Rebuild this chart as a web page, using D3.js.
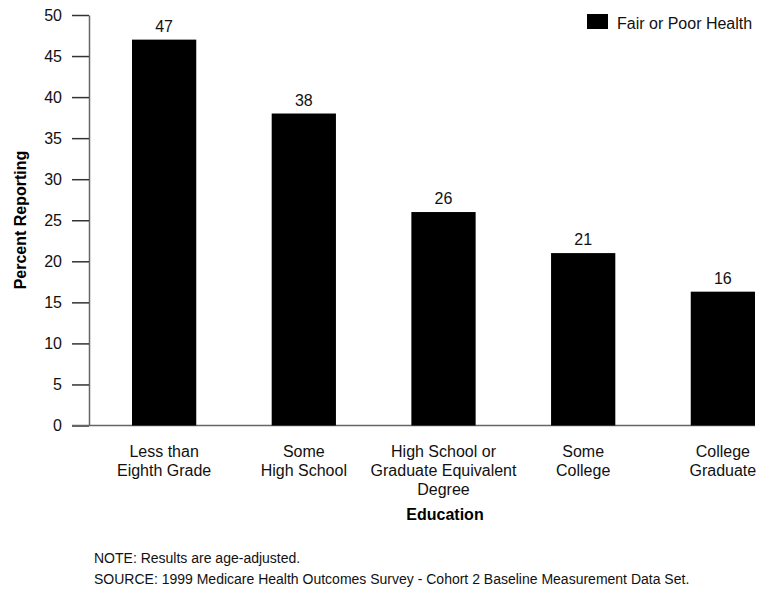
<!DOCTYPE html>
<html>
<head>
<meta charset="utf-8">
<script src="https://cdn.jsdelivr.net/npm/d3@7"></script>
<style>
  body { margin: 0; background: #fff; }
  svg { font-family: "Liberation Sans", Arial, Helvetica, sans-serif; }
</style>
</head>
<body>
<svg id="chart" width="772" height="594"></svg>
<script>
const categories = [
  ['Less than', 'Eighth Grade'],
  ['Some', 'High School'],
  ['High School or', 'Graduate Equivalent', 'Degree'],
  ['Some', 'College'],
  ['College', 'Graduate']
];
const values = [47, 38, 26, 21, 16.3];
const valueLabels = ['47', '38', '26', '21', '16'];
const yTicks = [0, 5, 10, 15, 20, 25, 30, 35, 40, 45, 50];

const svg = d3.select('#chart');
const axisX = 89;
const axisColor = '#666';

const xScale = d3.scaleBand()
  .domain(d3.range(categories.length))
  .range([132, 755])
  .paddingInner(0.54)
  .paddingOuter(0);

const yScale = d3.scaleLinear().domain([0, 50]).range([425.5, 15]);

// y axis
const yAxis = svg.append('g')
  .attr('transform', `translate(${axisX},0)`)
  .call(d3.axisLeft(yScale).tickValues(yTicks).tickSize(17).tickPadding(10).tickSizeOuter(0));
yAxis.select('.domain').attr('stroke', axisColor).attr('stroke-width', 1.5);
yAxis.selectAll('.tick line').attr('stroke', '#333').attr('stroke-width', 1.5);
yAxis.selectAll('.tick text').attr('font-size', 16).attr('fill', '#111');

// x axis line
svg.append('line')
  .attr('x1', axisX - 17).attr('x2', xScale.range()[1])
  .attr('y1', yScale(0)).attr('y2', yScale(0))
  .attr('stroke', axisColor).attr('stroke-width', 1.5);

// bars
svg.selectAll('.bar')
  .data(values)
  .enter().append('rect')
    .attr('class', 'bar')
    .attr('x', (d, i) => xScale(i))
    .attr('y', d => yScale(d))
    .attr('width', xScale.bandwidth())
    .attr('height', d => yScale(0) - yScale(d))
    .attr('fill', '#000');

// value labels
svg.selectAll('.val')
  .data(values)
  .enter().append('text')
    .attr('x', (d, i) => xScale(i) + xScale.bandwidth() / 2)
    .attr('y', d => yScale(d) - 8)
    .attr('text-anchor', 'middle')
    .attr('font-size', 16)
    .attr('fill', '#111')
    .text((d, i) => valueLabels[i]);

// category labels
const cat = svg.selectAll('.cat')
  .data(categories)
  .enter().append('text')
    .attr('class', 'cat')
    .attr('text-anchor', 'middle')
    .attr('font-size', 16)
    .attr('fill', '#111');
cat.selectAll('tspan')
  .data((d, i) => d.map(t => ({ t, i })))
  .enter().append('tspan')
    .attr('x', d => xScale(d.i) + xScale.bandwidth() / 2)
    .attr('y', (d, j) => 457 + j * 19)
    .text(d => d.t);

// axis titles
svg.append('text')
  .attr('x', 445).attr('y', 520)
  .attr('text-anchor', 'middle')
  .attr('font-size', 16).attr('font-weight', 'bold')
  .text('Education');

svg.append('text')
  .attr('transform', 'translate(26,220) rotate(-90)')
  .attr('text-anchor', 'middle')
  .attr('font-size', 16).attr('font-weight', 'bold')
  .text('Percent Reporting');

// legend
svg.append('rect')
  .attr('x', 587).attr('y', 14).attr('width', 21).attr('height', 15)
  .attr('fill', '#000');
svg.append('text')
  .attr('x', 617).attr('y', 29)
  .attr('font-size', 16).attr('fill', '#111')
  .text('Fair or Poor Health');

// notes
svg.append('text')
  .attr('x', 94).attr('y', 563)
  .attr('font-size', 14).attr('fill', '#111')
  .text('NOTE: Results are age-adjusted.');
svg.append('text')
  .attr('x', 94).attr('y', 584)
  .attr('font-size', 14).attr('fill', '#111')
  .text('SOURCE: 1999 Medicare Health Outcomes Survey - Cohort 2 Baseline Measurement Data Set.');
</script>
</body>
</html>
